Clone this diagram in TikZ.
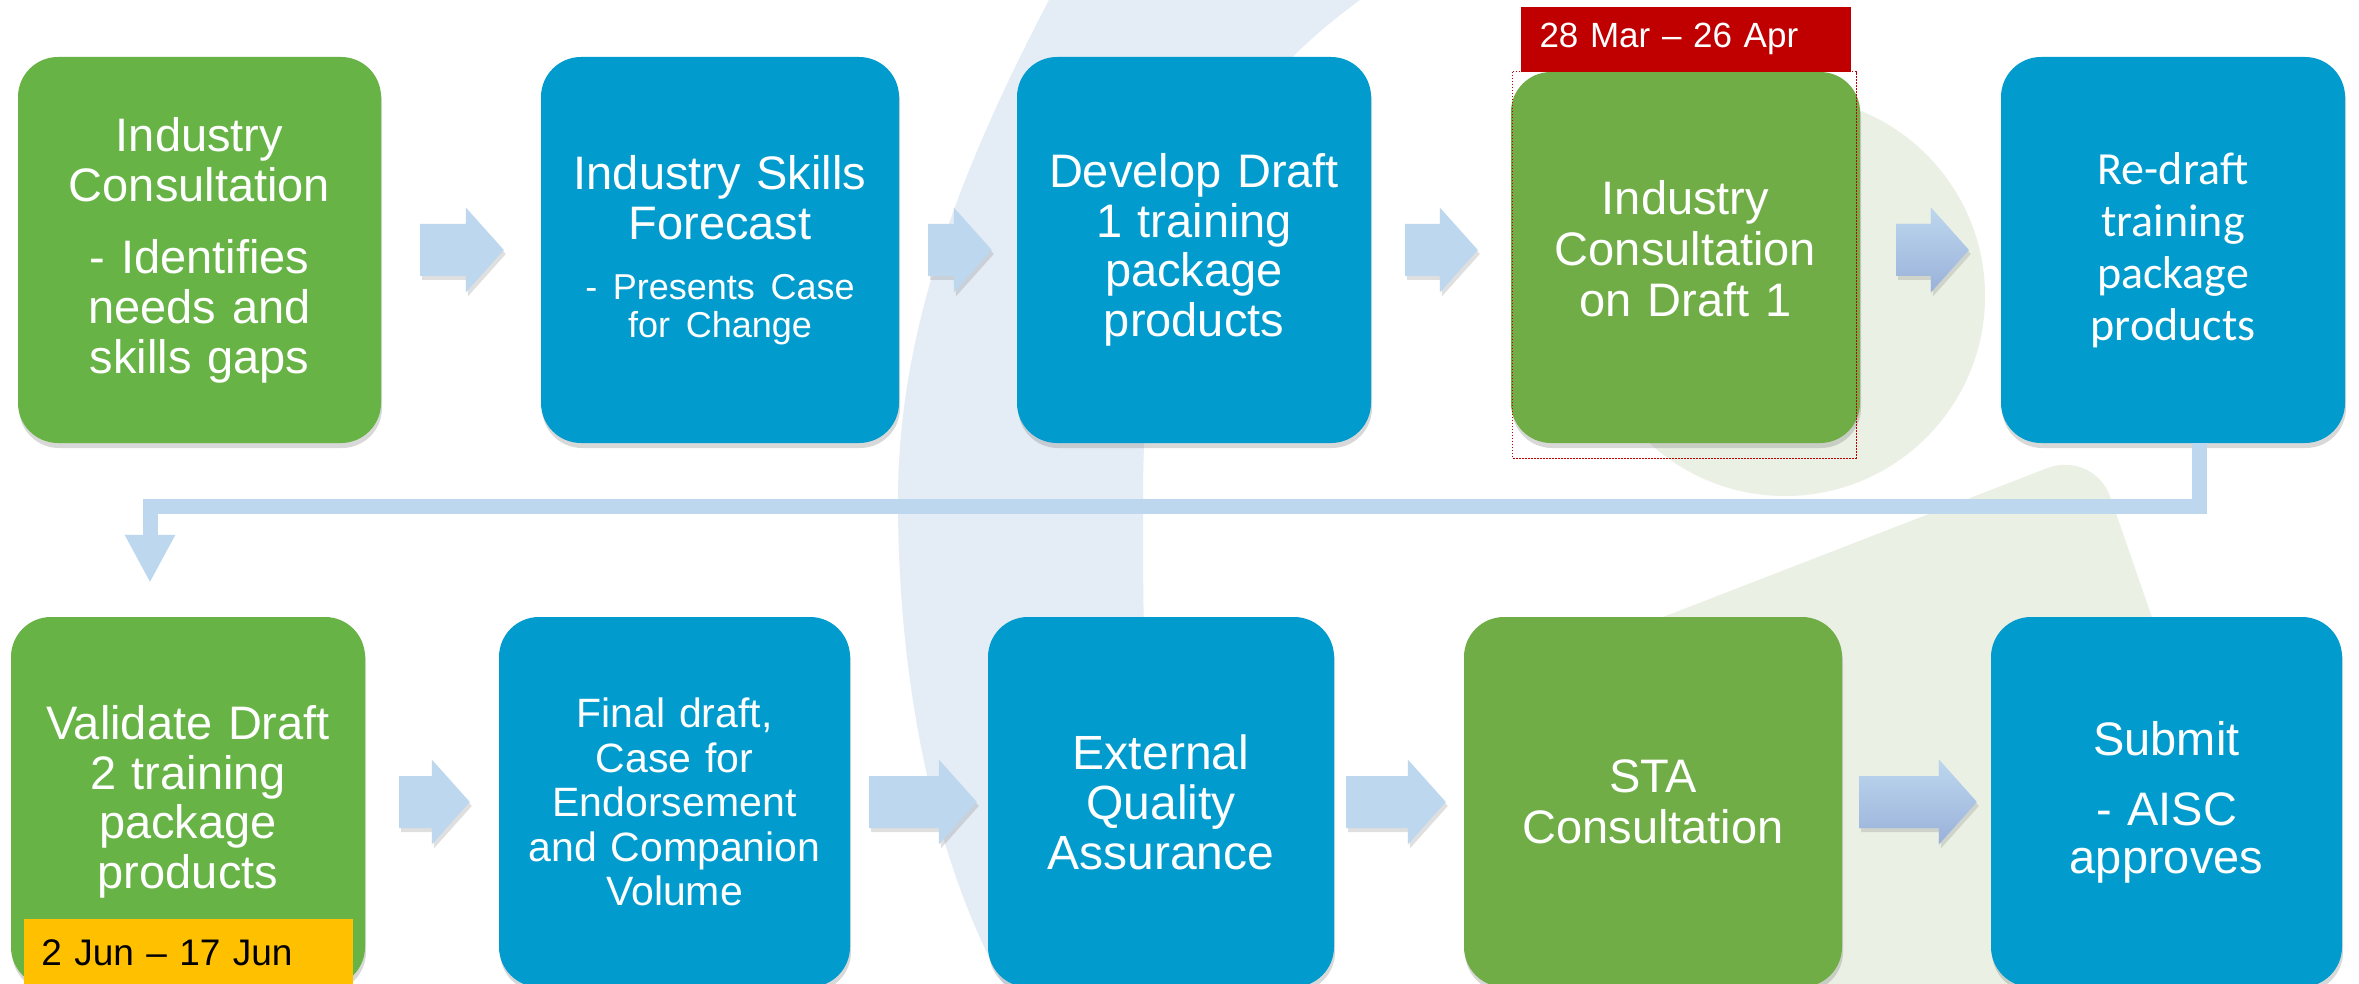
\documentclass[tikz,border=0pt]{standalone}
\usepackage{fontspec}
\setmainfont{Liberation Sans}
\newfontfamily\calibfont{Carlito}
\usepackage{tikz}
\usetikzlibrary{arrows.meta,positioning,calc,shadows}
\definecolor{boxblue}{HTML}{019CCD}
\definecolor{boxgreen}{HTML}{67B346}
\definecolor{consgreen}{HTML}{70AD47}
\definecolor{arrowblue}{HTML}{BDD7EE}
\definecolor{arrowdark}{HTML}{9AB1D9}
\definecolor{datered}{HTML}{C00000}
\definecolor{dateorange}{HTML}{FFC000}
\definecolor{bgblue}{HTML}{E4ECF5}
\definecolor{bggreen}{HTML}{EAF0E4}

\begin{document}
\begin{tikzpicture}[x=1pt,y=-1pt]
\tikzset{stepbox/.style={rounded corners=40pt, text=white, align=center, inner sep=0pt,
drop shadow={shadow xshift=1pt, shadow yshift=-5pt, opacity=.3}}}
\tikzset{toprow/.style={stepbox, minimum height=386pt}}
\tikzset{lowrow/.style={stepbox, minimum height=370pt}}
\tikzset{datebox/.style={inner sep=0pt, align=left}}
\tikzset{flowarrow/.style={fill=arrowblue,
drop shadow={shadow xshift=2pt, shadow yshift=-4pt, opacity=.25},
to path={let \p1=(\tikztostart), \p2=(\tikztotarget) in
(\x1,\y1+26pt) -- (\x2-38pt,\y1+26pt) -- (\x2-38pt,\y1+42.5pt) -- (\x2,\y1)
-- (\x2-38pt,\y1-42.5pt) -- (\x2-38pt,\y1-26pt) -- (\x1,\y1-26pt) -- cycle}}}
\tikzset{shadedarrow/.style={flowarrow, top color=arrowblue, bottom color=arrowdark}}
\tikzset{loopline/.style={draw=arrowblue, line width=15pt, -{Triangle[width=47pt,length=48pt]}}}

\useasboundingbox (0,0) rectangle (2359,984);
\fill[white] (0,0) rectangle (2359,984);
\fill[bgblue] (1049,0) .. controls (960,170) and (898,330) .. (898,500)
.. controls (898,700) and (940,870) .. (1003,984) -- (1180,984)
.. controls (1143,800) and (1143,650) .. (1143,500)
.. controls (1143,300) and (1180,130) .. (1360,0) -- cycle;
\fill[bggreen] (1785,296) circle[radius=200];
\fill[bggreen, rounded corners=50pt] (1560,657) -- (2094,450) -- (2281,990) -- (1560,990) -- cycle;

\node[toprow, fill=boxgreen, minimum width=363pt, text width=347pt,
font=\fontsize{47}{50}\selectfont] (consult) at (199.5,250)
{Industry\\Consultation\\[22pt]- Identifies\\needs and\\skills gaps};
\node[toprow, fill=boxblue, minimum width=358pt, text width=342pt,
font=\fontsize{47}{50}\selectfont] (forecast) at (720,250)
{Industry Skills\\Forecast\par\vspace{23pt}{\fontsize{36}{37.5}\selectfont - Presents Case\\for Change\par}};
\node[toprow, fill=boxblue, minimum width=354pt, text width=338pt,
font=\fontsize{47}{49.5}\selectfont] (draftone) at (1194,250)
{Develop Draft\\1 training\\package\\products};
\node[stepbox, fill=consgreen, minimum width=349pt, minimum height=371pt, text width=333pt,
font=\fontsize{47}{51}\selectfont] (consultone) at (1685.5,257.5)
{Industry\\Consultation\\on Draft 1\par\vspace{18pt}};
\node[toprow, fill=boxblue, minimum width=344pt, text width=328pt,
font=\calibfont\fontsize{46}{52}\selectfont] (redraft) at (2173,250)
{Re-draft\\training\\package\\products};

\node[lowrow, fill=boxgreen, minimum width=354pt, text width=338pt,
font=\fontsize{47}{49.5}\selectfont] (validate) at (188,802)
{Validate Draft\\2 training\\package\\products};
\node[lowrow, fill=boxblue, minimum width=351pt, text width=335pt,
font=\fontsize{41}{44.5}\selectfont] (finaldraft) at (674.5,802)
{Final draft,\\Case for\\Endorsement\\and Companion\\Volume};
\node[lowrow, fill=boxblue, minimum width=346pt, text width=330pt,
font=\fontsize{48}{50}\selectfont] (quality) at (1161,802)
{External\\Quality\\Assurance};
\node[lowrow, fill=consgreen, minimum width=378pt, text width=362pt,
font=\fontsize{47}{51}\selectfont] (sta) at (1653,802)
{STA\\Consultation};
\node[lowrow, fill=boxblue, minimum width=351pt, text width=335pt,
font=\fontsize{47}{48}\selectfont] (submit) at (2166.5,802)
{Submit\\[22pt]- AISC\\approves};

\draw[datered, line width=1.2pt, dash pattern=on 1.5pt off 1.5pt] ([xshift=2pt]consultone.north west)
rectangle ([xshift=-4pt,yshift=-15pt]consultone.south east);
\node[datebox, fill=datered, text=white, minimum width=330pt, minimum height=65pt,
text width=292pt, font=\fontsize{35}{40}\selectfont, above=0pt of consultone] (marapr)
{28 Mar – 26 Apr};
\node[datebox, fill=dateorange, text=black, minimum width=329pt, minimum height=68pt,
text width=293pt, font=\fontsize{37}{40}\selectfont, anchor=south] (junjun) at (validate.south)
{2 Jun – 17 Jun};

\path[flowarrow] ([xshift=39pt]consult.east) to ([xshift=-37pt]forecast.west);
\path[flowarrow] ([xshift=29pt]forecast.east) to ([xshift=-25pt]draftone.west);
\path[flowarrow] ([xshift=34pt]draftone.east) to ([xshift=-33pt]consultone.west);
\path[shadedarrow] ($(consultone.east |- redraft.west)+(36,0)$) to ([xshift=-32pt]redraft.west);
\path[flowarrow] ([xshift=34pt]validate.east) to ([xshift=-29pt]finaldraft.west);
\path[flowarrow] ([xshift=19pt]finaldraft.east) to ([xshift=-11pt]quality.west);
\path[flowarrow] ([xshift=12pt]quality.east) to ([xshift=-18pt]sta.west);
\path[shadedarrow] ([xshift=17pt]sta.east) to ([xshift=-14pt]submit.west);

\draw[loopline] ([xshift=26pt]redraft.south) -- ++(0,63) -| ([xshift=-38pt,yshift=34pt]validate.north);
\end{tikzpicture}
\end{document}
